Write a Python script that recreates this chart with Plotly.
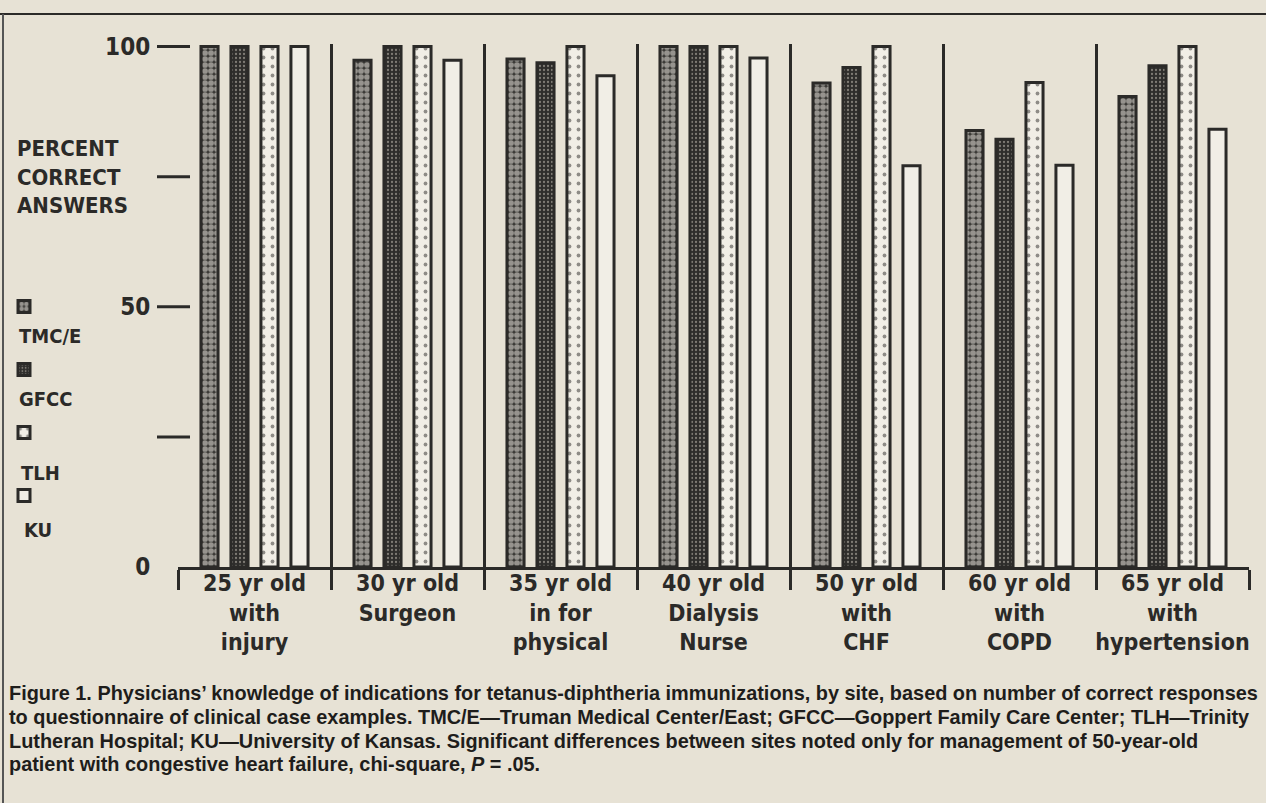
import plotly.graph_objects as go

# ---------------- data ----------------
categories = [
    "25 yr old<br>with<br>injury",
    "30 yr old<br>Surgeon",
    "35 yr old<br>in for<br>physical",
    "40 yr old<br>Dialysis<br>Nurse",
    "50 yr old<br>with<br>CHF",
    "60 yr old<br>with<br>COPD",
    "65 yr old<br>with<br>hypertension",
]
sites = ["TMC/E", "GFCC", "TLH", "KU"]
tmce = [100, 97.4, 97.6, 100, 93.0, 83.9, 90.4]
gfcc = [100, 100, 96.9, 100, 96.0, 82.2, 96.3]
tlh = [100, 100, 100, 100, 100, 93.1, 100]
ku = [100, 97.4, 94.4, 97.8, 77.1, 77.2, 84.1]
y_tick_vals = [0, 25, 50, 75, 100]
y_tick_text = ["0", "", "50", "", "100"]
y_tick_marks = [25, 50, 75, 100]
y_title_lines = ["PERCENT", "CORRECT", "ANSWERS"]
caption_lines = [
    "Figure 1. Physicians\u2019 knowledge of indications for tetanus-diphtheria immunizations, by site, based on number of correct responses",
    "to questionnaire of clinical case examples. TMC/E\u2014Truman Medical Center/East; GFCC\u2014Goppert Family Care Center; TLH\u2014Trinity",
    "Lutheran Hospital; KU\u2014University of Kansas. Significant differences between sites noted only for management of 50-year-old",
    "patient with congestive heart failure, chi-square, <i>P</i> = .05.",
]

# ---------------- style ----------------
PAPER = "#e7e2d5"
INK = "#2b2a28"
LIGHT = "#f1eee6"
MAC = "DejaVu Sans Condensed, DejaVu Sans"
W, H = 1266, 803
L, R, T, B = 178, 17, 44, 236
PW, PH = W - L - R, H - T - B


def px_x(px):
    return (px - L) / PW


def px_y(py):
    return (H - B - py) / PH


series = [
    (sites[0], tmce, dict(shape=".", fgcolor=LIGHT, bgcolor="#3a3936", size=6, solidity=0.72)),
    (sites[1], gfcc, dict(shape=".", fgcolor="#cfcabd", bgcolor="#2e2d2b", size=4, solidity=0.25)),
    (sites[2], tlh, dict(shape=".", fgcolor=INK, bgcolor=LIGHT, size=9, solidity=0.14)),
    (sites[3], ku, dict(shape="", bgcolor=LIGHT)),
]

fig = go.Figure()
for i, (name, vals, pat) in enumerate(series):
    fig.add_trace(go.Bar(
        x=categories, y=vals, name=" ",
        legendgroup=name,
        marker=dict(color=pat["bgcolor"], pattern=pat,
                    line=dict(color=INK, width=3)),
    ))

shapes = []
for v in y_tick_marks:
    shapes.append(dict(type="line", xref="paper", yref="y",
                       x0=px_x(157), x1=px_x(190), y0=v, y1=v,
                       line=dict(color=INK, width=3)))
# scanned figure frame
shapes.append(dict(type="line", xref="paper", yref="paper",
                   x0=px_x(0), x1=px_x(W), y0=px_y(14), y1=px_y(14),
                   line=dict(color=INK, width=2)))
shapes.append(dict(type="line", xref="paper", yref="paper",
                   x0=px_x(3), x1=px_x(3), y0=px_y(14), y1=px_y(H),
                   line=dict(color="#555", width=2)))

annotations = []
annotations.append(dict(
    xref="paper", yref="paper", x=px_x(15), y=px_y(134),
    xanchor="left", yanchor="top", align="left", showarrow=False,
    text="<br>".join(y_title_lines),
    font=dict(family=MAC, size=22, color=INK, weight="bold")))

legend_label_pos = [(17, 336), (17, 399), (19, 473), (22, 530)]
for name, (lx, ly) in zip(sites, legend_label_pos):
    annotations.append(dict(
        xref="paper", yref="paper", x=px_x(lx), y=px_y(ly),
        xanchor="left", yanchor="middle", showarrow=False, text=name,
        font=dict(family=MAC, size=20, color=INK, weight="bold")))

cap_y = [693, 717, 741, 764]
for line, cy in zip(caption_lines, cap_y):
    annotations.append(dict(
        xref="paper", yref="paper", x=px_x(7), y=px_y(cy),
        xanchor="left", yanchor="middle", showarrow=False, text=line,
        font=dict(family="Liberation Sans Narrow, Arial Narrow, Liberation Sans",
                  size=19.9, color="#1e1d1b", weight="bold")))

fig.update_layout(
    width=W, height=H,
    margin=dict(l=L, r=R, t=T, b=B, pad=0, autoexpand=False),
    paper_bgcolor=PAPER, plot_bgcolor=PAPER,
    barmode="group", bargap=0.216, bargroupgap=0.43,
    font=dict(family="DejaVu Sans", color=INK),
    showlegend=True,
    legend=dict(x=px_x(4), y=px_y(292), xanchor="left", yanchor="top",
                bgcolor="rgba(0,0,0,0)", traceorder="grouped",
                tracegroupgap=44, font=dict(size=12)),
    shapes=shapes,
    annotations=annotations,
    xaxis=dict(
        type="category", range=[-0.5, 6.5], tickangle=0, automargin=False,
        tickson="boundaries", ticks="outside", ticklen=20, tickwidth=3,
        tickcolor=INK, showline=True, linewidth=3, linecolor=INK,
        showgrid=True, gridcolor=INK, gridwidth=3,
        tickfont=dict(family=MAC, size=23, color=INK, weight="bold"),
        ticklabelstandoff=-7, zeroline=False,
    ),
    yaxis=dict(
        range=[0, 100.5], showgrid=False, zeroline=False, showline=False,
        automargin=False,
        tickvals=y_tick_vals, ticktext=y_tick_text,
        ticks="outside", ticklen=22, tickcolor="rgba(0,0,0,0)",
        tickfont=dict(family=MAC, size=24, color=INK, weight="bold"),
    ),
)

fig.write_html(
    "out.html",
    config={"displayModeBar": False},
    post_script="document.body.style.margin='0';document.body.style.overflow='hidden';",
)
